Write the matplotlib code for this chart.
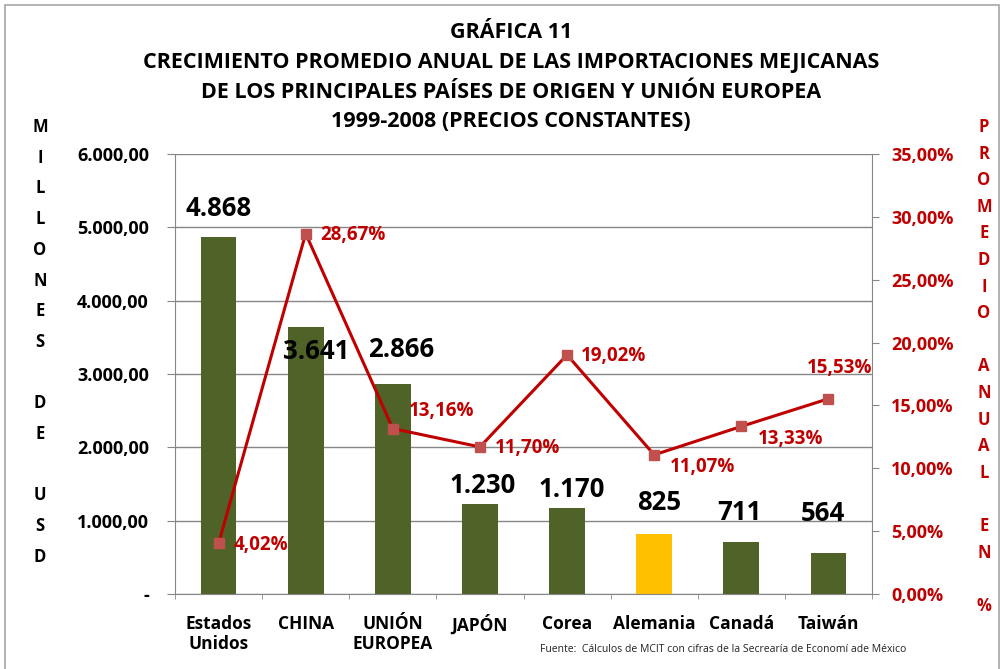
import matplotlib
matplotlib.use("Agg")
import matplotlib.pyplot as plt
from matplotlib.patches import Rectangle
from matplotlib.ticker import FixedLocator

plt.rcParams['font.family'] = ['Open Sans', 'DejaVu Sans']

# datos
paises = ["Estados\nUnidos", "CHINA", "UNIÓN\nEUROPEA", "JAPÓN", "Corea", "Alemania", "Canadá", "Taiwán"]
importaciones = [4868, 3641, 2866, 1230, 1170, 825, 711, 564]
etiquetas_imp = ["4.868", "3.641", "2.866", "1.230", "1.170", "825", "711", "564"]
crecimiento = [4.02, 28.67, 13.16, 11.70, 19.02, 11.07, 13.33, 15.53]
etiquetas_crec = ["4,02%", "28,67%", "13,16%", "11,70%", "19,02%", "11,07%", "13,33%", "15,53%"]
ticks_izq = [0, 1000, 2000, 3000, 4000, 5000, 6000]
etiq_izq = ["-", "1.000,00", "2.000,00", "3.000,00", "4.000,00", "5.000,00", "6.000,00"]
ticks_der = [0, 5, 10, 15, 20, 25, 30, 35]
etiq_der = ["0,00%", "5,00%", "10,00%", "15,00%", "20,00%", "25,00%", "30,00%", "35,00%"]

verde = "#4F6228"
amarillo = "#FFC000"
rojo = "#C00000"
rojo_marca = "#C0504D"
gris = "#868686"

fig = plt.figure(figsize=(10.04, 6.69), dpi=100)
fig.patches.append(Rectangle((5 / 1004, -0.05), 994 / 1004, 1 - 5 / 669 + 0.05,
                             transform=fig.transFigure, fill=False, edgecolor="#A6A6A6", lw=1.2))

ax = fig.add_axes([175 / 1004, 1 - 594 / 669, 697 / 1004, 440 / 669])
x = list(range(len(paises)))
colores = [amarillo if p == "Alemania" else verde for p in paises]
ax.bar(x, importaciones, width=0.41, color=colores, zorder=2)
ax.set_xlim(-0.5, len(paises) - 0.5)
ax.set_ylim(0, 6000)
ax.set_yticks(ticks_izq)
ax.set_yticklabels(etiq_izq, fontsize=13, fontweight="bold")
ax.yaxis.grid(True, color=gris, lw=1, zorder=0)
ax.tick_params(axis="y", length=5.8, color=gris, pad=13)
ax.set_xticks(x)
ax.set_xticklabels(paises, fontsize=12.5, fontweight="bold", linespacing=1.15)
ax.xaxis.set_minor_locator(FixedLocator([i - 0.5 for i in range(len(paises) + 1)]))
ax.tick_params(axis="x", which="major", length=0, pad=15)
ax.tick_params(axis="x", which="minor", length=3.6, color=gris)
for s in ["top", "right"]:
    ax.spines[s].set_visible(False)
for s in ["left", "bottom"]:
    ax.spines[s].set_color(gris)

# etiquetas de barras (desplazamientos en pixeles)
desp_barras = [(0, 29), (10, -25), (8, 34), (3, 18), (5, 19), (5, 31), (-2, 29), (-6, 39)]
for i, (v, t) in enumerate(zip(importaciones, etiquetas_imp)):
    dx, dy = desp_barras[i]
    ax.annotate(t, (i, v), xytext=(dx, dy), textcoords="offset pixels",
                ha="center", va="center", fontsize=18.5, fontweight="bold", color="black")

ax2 = ax.twinx()
ax2.plot(x, crecimiento, color=rojo, lw=2.2, marker="s", markersize=7,
         markerfacecolor=rojo_marca, markeredgecolor=rojo_marca, zorder=3)
ax2.set_ylim(0, 35)
ax2.set_yticks(ticks_der)
ax2.set_yticklabels(etiq_der, fontsize=13, fontweight="bold", color=rojo)
ax2.tick_params(axis="y", length=5, color=gris, pad=8.6)
for s in ["top", "left", "bottom"]:
    ax2.spines[s].set_visible(False)
ax2.spines["right"].set_color(gris)

desp_linea = [(15, -2), (15, -1), (16, 18), (15, -1), (14, -1), (16, -12), (17, -13), (-22, 31)]
for i, (v, t) in enumerate(zip(crecimiento, etiquetas_crec)):
    dx, dy = desp_linea[i]
    ax2.annotate(t, (i, v), xytext=(dx, dy), textcoords="offset pixels",
                 ha="left", va="center", fontsize=13.5, fontweight="bold", color=rojo)

# titulo
titulo = ["GRÁFICA 11",
          "CRECIMIENTO PROMEDIO ANUAL DE LAS IMPORTACIONES MEJICANAS",
          "DE LOS PRINCIPALES PAÍSES DE ORIGEN Y UNIÓN EUROPEA",
          "1999-2008 (PRECIOS CONSTANTES)"]
for k, linea in enumerate(titulo):
    fig.text(511 / 1004, 1 - (33 + k * 29.5) / 669, linea, ha="center", va="center",
             fontsize=15.5, fontweight="bold", color="black")

# ejes verticales en letras
izq = "MILLONES DE USD"
for k, c in enumerate(izq):
    fig.text(40 / 1004, 1 - (127 + k * 30.7) / 669, c, ha="center", va="center",
             fontsize=12, fontweight="bold", color="black")
der = "PROMEDIO ANUAL EN %"
for k, c in enumerate(der):
    fig.text(984 / 1004, 1 - (127 + k * 26.6) / 669, c, ha="center", va="center",
             fontsize=12, fontweight="bold", color=rojo)

fig.text(540 / 1004, 1 - 650 / 669, "Fuente:  Cálculos de MCIT con cifras de la Secrearía de Economí ade México",
         ha="left", va="center", fontsize=7.5, color="#222222")

fig.savefig("out.png", dpi=100)
